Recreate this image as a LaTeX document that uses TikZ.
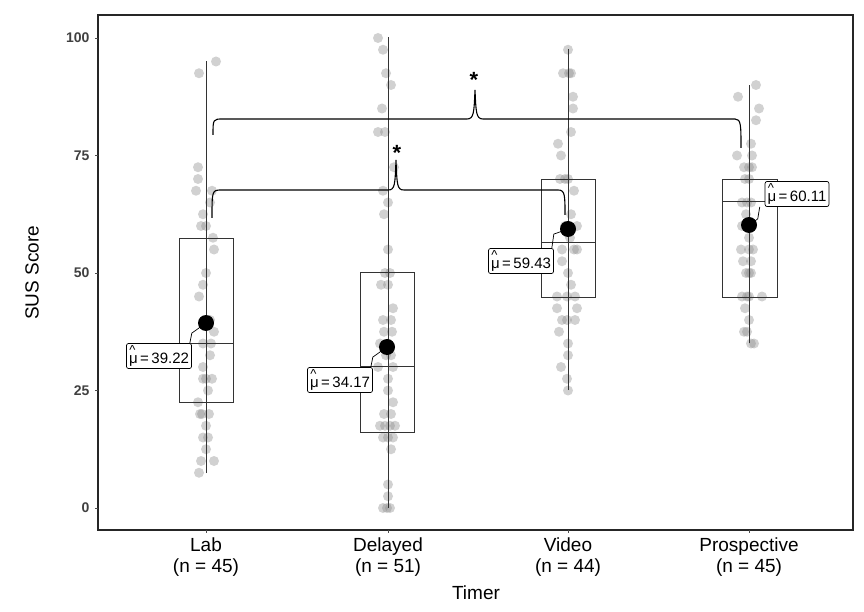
\documentclass[tikz,border=0pt]{standalone}
\usepackage{fontspec}
\setmainfont{Liberation Sans}
\newcommand{\muhatlab}{\makebox[0pt][l]{\raisebox{0.55em}{\hspace{0.02em}\fontsize{13}{13}\selectfont\^{}}}μ\,=\,}
\begin{document}
\begin{tikzpicture}[x=1pt,y=-1pt,
  pt/.style={fill=black!45,fill opacity=0.4},
  boxst/.style={draw=black!80,line width=0.6pt},
  meanlab/.style={draw,rounded corners=2pt,fill=white,inner sep=2.5pt,font=\fontsize{15}{18}\selectfont,line width=0.7pt},
  tick/.style={font=\fontsize{14}{16}\selectfont\bfseries,text=black!75,anchor=east},
  xlab/.style={font=\fontsize{19}{21}\selectfont,align=center,anchor=north}]
\useasboundingbox (0,0) rectangle (864,612);
% frame
\draw[line width=1.2pt,black!85] (98,15) rectangle (853,530);
\foreach \v in {0,25,50,75,100}{
  \node[tick] at (93,{508-4.7*\v}) {\v};
  \draw[black!70] (95,{508-4.7*\v}) -- (98,{508-4.7*\v});}
\foreach \x/\t/\n in {206/Lab/45,388/Delayed/51,568/Video/44,749/Prospective/45}{
  \draw[black!70] (\x,530) -- (\x,533);
  \node[xlab] at (\x,534) {\t\\(n = \n)};}
\node[font=\fontsize{19}{21}\selectfont] (xt) at (476,593) {Timer};
\node[font=\fontsize{19}{21}\selectfont,rotate=90] (yt) at (32,273) {SUS Score};
% points
\foreach \dx/\v in {10/95,-7/92.5,-8/72.5,-8/70,-10/67.5,6/67.5,4/65,-3/62.5,-5/60,0/60,7/57.5,8/55,0/50,-3/47.5,-7/45,4/40,8/37.5,-3/35,5/35,4/32.5,-3/30,6/27.5,-3/27.5,0/27.5,2/25,-8/22.5,-4/20,3/20,-6/20,0/17.5,-3/15,2/15,0/12.5,8/10,-5/10,-7/7.5}
  \fill[pt] ({206+\dx},{508-4.7*\v}) circle (5);
\foreach \dx/\v in {-10/100,-5/97.5,-2/92.5,3/90,-6/85,-10/80,-3/80,6/72.5,-5/67.5,0/65,-4/62.5,0/55,2/50,-3/50,-7/47.5,0/47.5,5/42.5,-5/40,3/40,-4/37.5,4/37.5,-8/35,0/35,3/32.5,-2/32.5,-10/30,5/30,0/27.5,0/25,5/22.5,-4/20,3/20,-8/17.5,-3/17.5,2/17.5,7/17.5,-5/15,0/15,5/15,3/12.5,0/5,0/2.5,-5/0,-1/0,2/0}
  \fill[pt] ({388+\dx},{508-4.7*\v}) circle (5);
\foreach \dx/\v in {0/97.5,-5/92.5,1/92.5,3/92.5,5/87.5,5/85,3/80,-10/77.5,-7/75,-8/70,-3/70,0/70,6/67.5,3/62.5,-3/60,9/60,2/57.5,-6/55,6/55,9/55,-6/52.5,0/50,3/47.5,-11/45,-1/45,7/45,-11/42.5,9/42.5,-6/40,-1/40,7/40,-9/37.5,0/35,0/32.5,-7/30,-1/27.5,0/25}
  \fill[pt] ({568+\dx},{508-4.7*\v}) circle (5);
\foreach \dx/\v in {7/90,-11/87.5,10/85,7/82.5,2/77.5,-12/75,3/75,-5/72.5,0/72.5,3/72.5,-4/70,0/70,-7/65,-2/65,2/65,-3/62.5,-7/60,0/57.5,-8/55,0/55,4/55,-6/52.5,2/52.5,-3/50,0/50,2/50,-7/45,-2/45,0/45,13/45,-4/42.5,0/40,-5/37.5,-2/37.5,5/35,2/35}
  \fill[pt] ({749+\dx},{508-4.7*\v}) circle (5);
% boxes
\draw[boxst] (206,473) -- (206,61);
\draw[boxst] (179,402) rectangle (233,238);
\draw[boxst,line width=1pt] (179,343) -- (233,343);
\draw[boxst] (388,508) -- (388,37);
\draw[boxst] (360,432) rectangle (414,272);
\draw[boxst,line width=1pt] (360,366) -- (414,366);
\draw[boxst] (568,390) -- (568,49);
\draw[boxst] (541,297) rectangle (595,179);
\draw[boxst,line width=1pt] (541,243) -- (595,243);
\draw[boxst] (749,343) -- (749,85);
\draw[boxst] (722,297) rectangle (777,179);
\draw[boxst,line width=1pt] (722,202) -- (777,202);
% means
\fill (206,323) circle (8) coordinate (m1);
\fill (387,347) circle (8) coordinate (m2);
\fill (568,229) circle (8) coordinate (m3);
\fill (749,225) circle (8) coordinate (m4);
\node[meanlab] (l1) at (159,356) {\muhatlab 39.22};
\node[meanlab] (l2) at (340,380) {\muhatlab 34.17};
\node[meanlab] (l3) at (521,261) {\muhatlab 59.43};
\node[meanlab] (l4) at (797,194) {\muhatlab 60.11};
\draw[line width=0.7pt] ([xshift=-2pt]l1.north east) -- ++(2,-10) -- (m1);
\draw[line width=0.7pt] ([xshift=-2pt]l2.north east) -- ++(2,-10) -- (m2);
\draw[line width=0.7pt] ([xshift=-2pt]l3.north east) -- ++(2,-14) -- (m3);
\draw[line width=0.7pt] ([xshift=-5pt]l4.south west) -- ++(-2,12) -- (m4);
% brackets
\draw[line width=1.1pt] (212,218) .. controls (212,190) and (212,190) .. (222,190) -- (388,190) .. controls (395,190) and (395,185) .. (396,160) .. controls (397,185) and (397,190) .. (404,190) -- (558,190) .. controls (565,190) and (565,195) .. (565,215);
\node[font=\fontsize{22}{22}\selectfont\bfseries] (s1) at (397,153) {*};
\draw[line width=1.1pt] (213,135) .. controls (213,119) and (213,119) .. (223,119) -- (467,119) .. controls (474,119) and (474,112) .. (475,90) .. controls (476,112) and (476,119) .. (483,119) -- (735,119) .. controls (741,119) and (741,125) .. (741,148);
\node[font=\fontsize{22}{22}\selectfont\bfseries] (s2) at (474,80) {*};
\end{tikzpicture}
\end{document}
